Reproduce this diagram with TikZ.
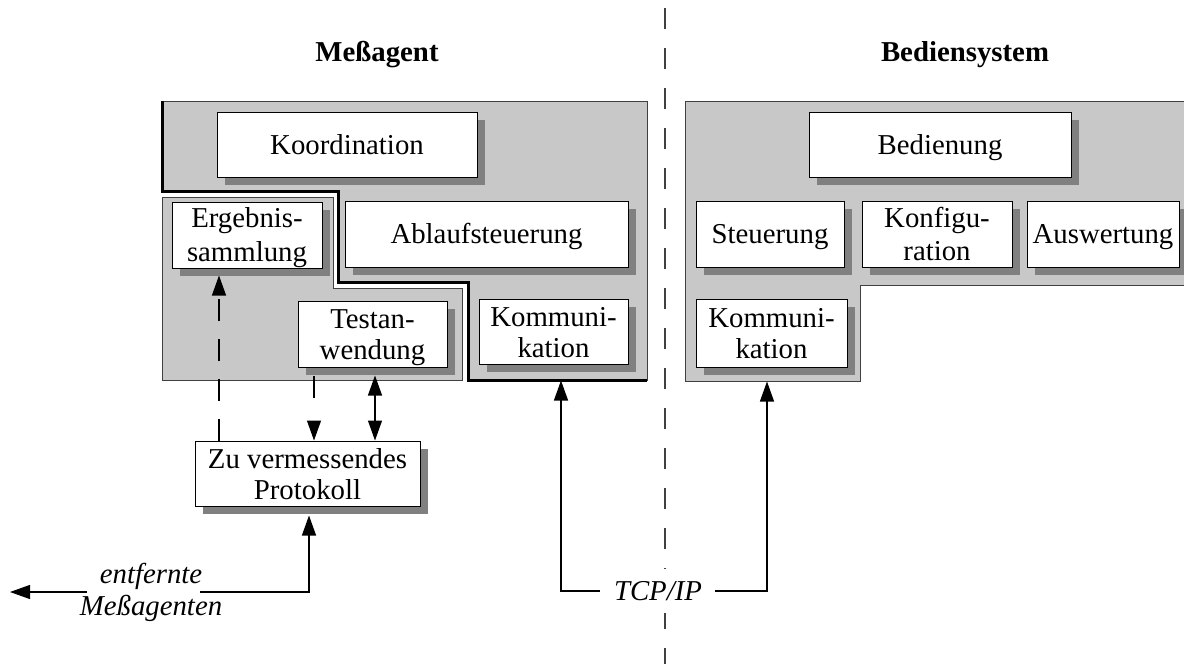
\documentclass[tikz,border=0pt]{standalone}
\usepackage{fontspec}
\setmainfont{Liberation Serif}
\usetikzlibrary{arrows.meta,shadows,calc}
\definecolor{panelgray}{HTML}{C8C8C8}
\definecolor{shadowgray}{HTML}{808080}
\definecolor{edgegray}{HTML}{404040}
\newcommand\lstr{\rule[-2.75pt]{0pt}{15.5pt}}
\begin{document}
\begin{tikzpicture}[x=0.5pt,y=-0.5pt,
  box/.style={draw=black, line width=0.5pt, fill=white, inner sep=0pt, align=center,
    font=\fontsize{14.4}{15.5}\selectfont,
    drop shadow={shadow xshift=4pt, shadow yshift=-4pt, fill=shadowgray, opacity=1}},
  panel/.style={fill=panelgray, draw=edgegray, line width=0.5pt},
  sep/.style={draw=black, line width=1.5pt},
  title/.style={font=\fontsize{14.4}{15}\selectfont\bfseries},
  lbl/.style={font=\fontsize{14.4}{16}\selectfont\itshape, align=center, inner sep=0pt},
  arr/.style={-{Triangle[length=10pt,width=7pt]}, line width=0.6pt},
  darr/.style={{Triangle[length=10pt,width=7pt]}-{Triangle[length=10pt,width=7pt]}, line width=0.6pt},
  divider/.style={draw=edgegray, line width=0.6pt, dash pattern=on 10.5pt off 9.5pt}]
\useasboundingbox (0,0) rectangle (1184,664);

% divider
\draw[divider] (665,8) -- (665,664);

% titles
\node[title] (t1) at (377,55) {Meßagent};
\node[title] (t2) at (965,55) {Bediensystem};

% left panels
\path[panel] (162,101) -- (647,101) -- (647,380) -- (468,380) -- (468,282) -- (338,282) -- (338,191) -- (162,191) -- cycle;
\draw[sep] (162,101) -- (162,191) -- (338,191) -- (338,282) -- (468,282) -- (468,380) -- (647,380);
\path[panel] (162,197) -- (333,197) -- (333,288) -- (462,288) -- (462,380) -- (162,380) -- cycle;

% right panel
\path[panel] (685,101) -- (1195,101) -- (1195,285) -- (860,285) -- (860,381) -- (685,381) -- cycle;

% coordinates for connectors
\coordinate (xa) at (219,0);
\coordinate (xb) at (314,0);
\coordinate (xc) at (375,0);
\coordinate (e1) at (309,592);
\coordinate (e2) at (200,592);
\coordinate (e3) at (87,592);
\coordinate (e4) at (10,592);
\coordinate (c1) at (561,591);
\coordinate (c2) at (600,591);
\coordinate (c3) at (715,591);
\coordinate (c4) at (767,591);

% boxes that connectors attach to
\node[box, minimum width=112.5pt, minimum height=32.5pt] (proto) at (307.5,473.5) {\lstr Zu vermessendes\\\lstr Protokoll};
\node[box, minimum width=75pt, minimum height=33pt] (ergeb) at (247,235) {\lstr Ergebnis-\\\lstr sammlung};
\node[box, minimum width=74.5pt, minimum height=33pt] (test) at (372.5,334) {\lstr Testan-\\\lstr wendung};
\node[box, minimum width=74.5pt, minimum height=32.5pt] (kommL) at (553.5,331.5) {\lstr Kommuni-\\\lstr kation};
\node[box, minimum width=75.5pt, minimum height=34pt] (kommR) at (771.5,333) {\lstr Kommuni-\\\lstr kation};

% connectors
\draw[arr, dash pattern=on 11pt off 9pt, shorten >=3.5pt] (proto.north -| xa) -- (ergeb.south -| xa);
\draw[arr, dash pattern=on 11pt off 12pt, shorten <=4pt] (test.south -| xb) -- (proto.north -| xb);
\draw[darr, shorten <=4pt] (test.south -| xc) -- (proto.north -| xc);
\draw[arr, shorten >=4.5pt] (e2) -- (e1) -- (proto.south -| e1);
\draw[arr] (e3) -- (e4);
\draw[arr, shorten >=8pt] (c2) -- (c1) -- (kommL.south -| c1);
\draw[arr, shorten >=7pt] (c3) -- (c4) -- (kommR.south -| c4);

\node[lbl] (entf) at (151,592) {entfernte\\Meßagenten};
\node[lbl, fill=white, inner ysep=6pt, inner xsep=1pt] (tcp) at (658,591) {TCP/IP};

% remaining boxes
\node[box, minimum width=130pt, minimum height=32.5pt] (koord) at (347,144.5) {\lstr Koordination};
\node[box, minimum width=141.5pt, minimum height=33pt] (ablauf) at (486.5,234) {\lstr Ablaufsteuerung};
\node[box, minimum width=131pt, minimum height=32.5pt] (bed) at (940,144.5) {\lstr Bedienung};
\node[box, minimum width=74pt, minimum height=33pt] (steu) at (770,234) {\lstr Steuerung};
\node[box, minimum width=75pt, minimum height=33pt] (konf) at (937,234) {\lstr Konfigu-\\\lstr ration};
\node[box, minimum width=76pt, minimum height=33pt] (ausw) at (1103,234) {\lstr Auswertung};
\end{tikzpicture}
\end{document}
